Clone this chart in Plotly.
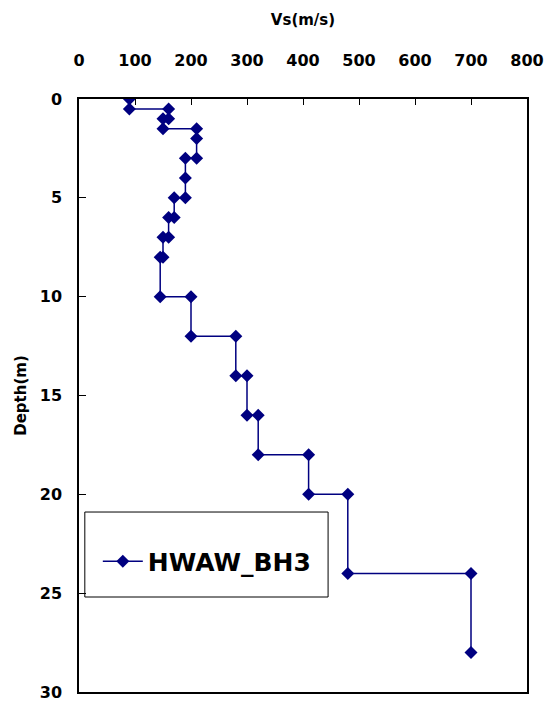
import plotly.graph_objects as go

depth_m = [0, 0.5, 0.5, 1, 1, 1.5, 1.5, 2, 3, 3, 4, 5, 5, 6, 6, 7, 7, 8, 8, 10,
           10, 12, 12, 14, 14, 16, 16, 18, 18, 20, 20, 24, 24, 28]
vs_ms = [90, 90, 160, 160, 150, 150, 210, 210, 210, 190, 190, 190, 170, 170, 160, 160,
         150, 150, 145, 145, 200, 200, 280, 280, 300, 300, 320, 320, 410, 410, 480, 480,
         700, 700]
series_name = "HWAW_BH3"
x_ticks = [0, 100, 200, 300, 400, 500, 600, 700, 800]
y_ticks = [0, 5, 10, 15, 20, 25, 30]

FONT = "DejaVu Sans"
NAVY = "#000080"

fig = go.Figure()
fig.add_trace(go.Scatter(
    x=vs_ms, y=depth_m, mode="lines+markers", name=series_name,
    line=dict(color=NAVY, width=1.5),
    marker=dict(symbol="diamond", size=10, color=NAVY),
))

fig.update_layout(
    width=555, height=701,
    margin=dict(l=79, r=28, t=99, b=9, autoexpand=False),
    paper_bgcolor="white", plot_bgcolor="white",
    font=dict(family=FONT, color="black", size=13),
    showlegend=True,
    legend=dict(
        x=0.042, y=0.22, xanchor="left", yanchor="middle",
        bgcolor="rgba(0,0,0,0)", borderwidth=0,
        font=dict(family=FONT, size=25, color="black", weight="bold"),
        itemwidth=40,
    ),
    xaxis=dict(
        side="top", range=[0, 800], tickvals=x_ticks,
        ticks="inside", ticklen=6, tickcolor="black",
        showline=True, linecolor="black", linewidth=1.5, mirror=True,
        showgrid=False, zeroline=False, automargin=False,
        tickfont=dict(family=FONT, size=16, weight="bold"),
        ticklabelstandoff=25, ticklabeloverflow="allow",
        title=dict(text="Vs(m/s)", font=dict(family=FONT, size=15, weight="bold"), standoff=22),
    ),
    yaxis=dict(
        range=[30, 0], tickvals=y_ticks,
        ticks="inside", ticklen=7, tickcolor="black",
        showline=True, linecolor="black", linewidth=1.5, mirror=True,
        showgrid=False, zeroline=False, automargin=False,
        tickfont=dict(family=FONT, size=16, weight="bold"),
        ticklabelstandoff=12, ticklabeloverflow="allow",
        title=dict(text="Depth(m)", font=dict(family=FONT, size=15, weight="bold"), standoff=10),
    ),
    shapes=[dict(
        type="rect", xref="paper", yref="paper",
        x0=0.013, x1=0.556, y0=0.1602, y1=0.3035,
        line=dict(color="black", width=1), fillcolor="rgba(0,0,0,0)",
    )],
)

fig.write_html(
    "out.html",
    config={"displayModeBar": False},
    post_script="document.body.style.margin='0';document.body.style.overflow='hidden';",
)
